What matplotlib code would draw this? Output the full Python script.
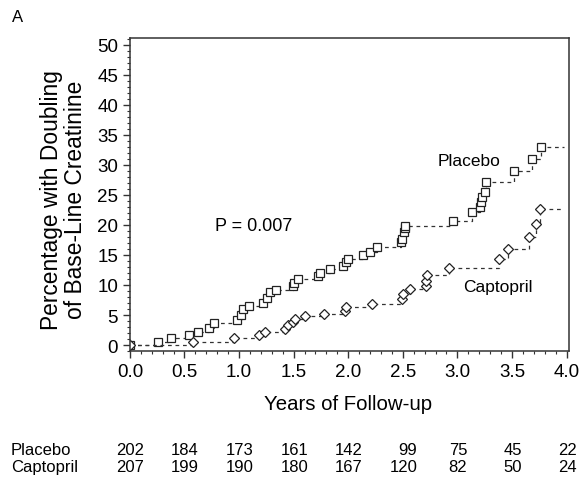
import numpy as np
import matplotlib.pyplot as plt
from matplotlib.ticker import MultipleLocator

plt.rcParams['font.family'] = ['Liberation Sans', 'DejaVu Sans']

# event times (years) and cumulative percentage with doubling of creatinine
placebo_t = [0.0, 0.26, 0.38, 0.54, 0.62, 0.72, 0.77, 0.98, 1.02, 1.04, 1.09,
             1.22, 1.26, 1.28, 1.34, 1.49, 1.50, 1.54, 1.72, 1.74, 1.83, 1.95,
             1.98, 2.00, 2.14, 2.20, 2.26, 2.48, 2.49, 2.51, 2.52, 2.52, 2.96,
             3.13, 3.21, 3.22, 3.23, 3.25, 3.26, 3.52, 3.68, 3.77]
placebo_p = [0.0, 0.55, 1.1, 1.7, 2.1, 2.9, 3.7, 4.2, 5.0, 6.0, 6.5,
             7.0, 7.8, 8.8, 9.2, 9.9, 10.4, 11.0, 11.5, 12.0, 12.7, 13.1,
             13.8, 14.3, 15.0, 15.5, 16.3, 17.1, 17.6, 18.8, 19.4, 19.8, 20.7,
             22.1, 22.9, 23.8, 24.6, 25.5, 27.2, 28.9, 30.9, 33.0]
captopril_t = [0.0, 0.58, 0.95, 1.18, 1.24, 1.42, 1.45, 1.49, 1.51, 1.60, 1.78,
               1.97, 1.98, 2.22, 2.49, 2.50, 2.57, 2.71, 2.71, 2.72, 2.92,
               3.38, 3.46, 3.66, 3.72, 3.76]
captopril_p = [0.0, 0.55, 1.1, 1.7, 2.1, 2.7, 3.3, 3.9, 4.4, 4.9, 5.2,
               5.7, 6.4, 6.9, 7.7, 8.5, 9.3, 9.9, 10.7, 11.7, 12.8,
               14.3, 16.0, 17.9, 20.1, 22.6]
end_time = 3.98

# numbers at risk
risk_years = np.arange(0, 4.01, 0.5)
risk_placebo = [202, 184, 173, 161, 142, 99, 75, 45, 22]
risk_captopril = [207, 199, 190, 180, 167, 120, 82, 50, 24]

W, H = 580, 481
fig = plt.figure(figsize=(5.8, 4.81), dpi=100)
ax = fig.add_axes([0.224, 0.268, 0.7565, 0.651])

for t, p, mk in [(placebo_t, placebo_p, 's'), (captopril_t, captopril_p, 'D')]:
    ax.plot(t + [end_time], p + [p[-1]], drawstyle='steps-post', ls=(0, (3, 3)),
            color='#333333', lw=0.9)
    ax.plot(t, p, ls='none', marker=mk, ms=5.5 if mk == 's' else 5,
            mfc='white', mec='#222222', mew=0.9)

ax.set_xlim(0, 4.02)
ax.set_ylim(-1, 51.1)
ax.xaxis.set_minor_locator(MultipleLocator(0.1))
ax.yaxis.set_major_locator(MultipleLocator(5))
ax.yaxis.set_minor_locator(MultipleLocator(1))
ax.set_xticks(risk_years)
ax.set_xticklabels(['%.1f' % v for v in risk_years])
ax.tick_params(which='major', length=5, width=1, labelsize=13.5, color='#333333')
ax.tick_params(which='minor', length=2.5, width=0.8, color='#333333')
for s in ax.spines.values():
    s.set_color('#333333')
    s.set_linewidth(1.1)

fig.text(348 / W, 1 - 405 / H, 'Years of Follow-up', fontsize=14.7,
         ha='center', va='center')
fig.text(63.5 / W, 1 - 200 / H, 'Percentage with Doubling\nof Base-Line Creatinine',
         fontsize=16.4, rotation=90, ha='center', va='center', linespacing=1.0)

ax.text(0.78, 19.9, 'P = 0.007', fontsize=13, va='center')
ax.text(2.82, 30.7, 'Placebo', fontsize=12.5, va='center')
ax.text(3.05, 9.7, 'Captopril', fontsize=12.5, va='center')

fig.text(12 / W, 1 - 18 / H, 'A', fontsize=12, va='center')

fig.text(11 / W, 1 - 451 / H, 'Placebo', fontsize=12, va='center')
fig.text(11 / W, 1 - 468 / H, 'Captopril', fontsize=12, va='center')
for x, a, b in zip(risk_years, risk_placebo, risk_captopril):
    # columns centred near the tick, numbers right-aligned within the column
    ndig = max(len(str(a)), len(str(b)))
    off = (4.5 * ndig + 1) * 0.72
    for n, yy in [(a, 451), (b, 468)]:
        ax.annotate(str(n), xy=(x, 1 - yy / H), xycoords=('data', 'figure fraction'),
                    xytext=(off, 0), textcoords='offset points',
                    fontsize=12, va='center', ha='right', annotation_clip=False)

fig.savefig('out.png', dpi=100)
